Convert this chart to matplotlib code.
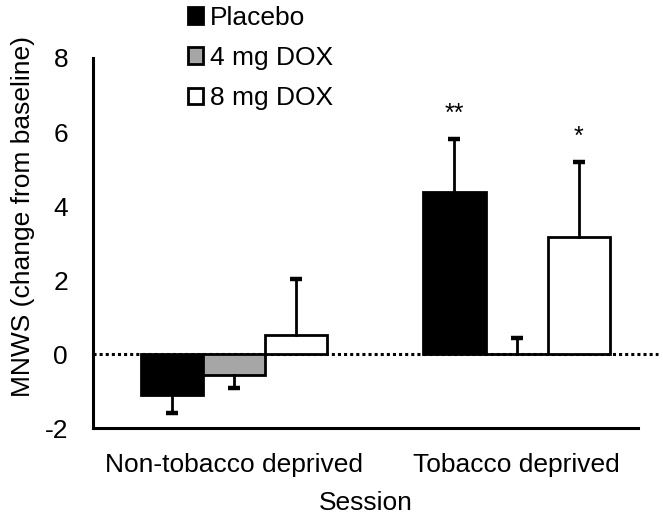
import numpy as np
import matplotlib
matplotlib.use("Agg")
import matplotlib.pyplot as plt

plt.rcParams["font.family"] = ["Liberation Sans", "DejaVu Sans"]
plt.rcParams["axes.unicode_minus"] = False

# data
sessions = ["Non-tobacco deprived", "Tobacco deprived"]
groups = ["Placebo", "4 mg DOX", "8 mg DOX"]
means = {
    "Placebo": [-1.12, 4.38],
    "4 mg DOX": [-0.57, 0.0],
    "8 mg DOX": [0.52, 3.16],
}
errs = {
    "Placebo": [0.47, 1.43],
    "4 mg DOX": [0.34, 0.44],
    "8 mg DOX": [1.50, 2.03],
}
stars = {"Placebo": ["", "**"], "4 mg DOX": ["", ""], "8 mg DOX": ["", "*"]}
colors = {"Placebo": "black", "4 mg DOX": "#a6a6a6", "8 mg DOX": "white"}

fig = plt.figure(figsize=(6.63, 5.16), dpi=100)
ax = fig.add_axes([0.1403, 0.1705, 0.822, 0.7171])

x = np.arange(len(sessions))
w = 0.22
ax.plot([-0.5, 1.5], [0, 0], color="black", ls=(0, (1, 1)), lw=2.2,
        clip_on=False, zorder=1)

for i, g in enumerate(groups):
    pos = x + (i - 1) * w
    vals = np.array(means[g])
    e = np.array(errs[g])
    ax.bar(pos, vals, width=w, color=colors[g], edgecolor="black",
           linewidth=2.0, label=g, zorder=2)
    # one-sided error bars, in the direction of the bar
    for p, v, ee, s in zip(pos, vals, e, stars[g]):
        end = v - ee if v < 0 else v + ee
        ax.plot([p, p], [v, end], color="black", lw=2.0, zorder=3)
        ax.plot([p], [end], marker="_", ms=9, mew=3.2, color="black",
                zorder=3)
        if s:
            ax.text(p, end + 0.5, s, ha="center", va="baseline",
                    fontsize=18)

ax.set_xlim(-0.5, 1.43)
ax.set_ylim(-2, 8)
ax.set_yticks([-2, 0, 2, 4, 6, 8])
ax.set_xticks(x)
ax.set_xticklabels(sessions, fontsize=19)
ax.tick_params(axis="both", length=0, labelsize=19)
ax.tick_params(axis="y", pad=18)
ax.tick_params(axis="x", pad=18)
for side in ["top", "right"]:
    ax.spines[side].set_visible(False)
for side in ["left", "bottom"]:
    ax.spines[side].set_linewidth(2.2)

ax.set_xlabel("Session", fontsize=19)
ax.xaxis.set_label_coords(0.5, -0.17)
fig.text(0.035, 0.58, "MNWS (change from baseline)", rotation=90,
         ha="center", va="center", fontsize=19)

fig.legend(loc="upper left", bbox_to_anchor=(0.255, 1.025), frameon=False,
           fontsize=19, handlelength=0.6, handleheight=0.6,
           handletextpad=0.25, labelspacing=0.62, borderpad=0.2)

fig.savefig("out.png", dpi=100)
